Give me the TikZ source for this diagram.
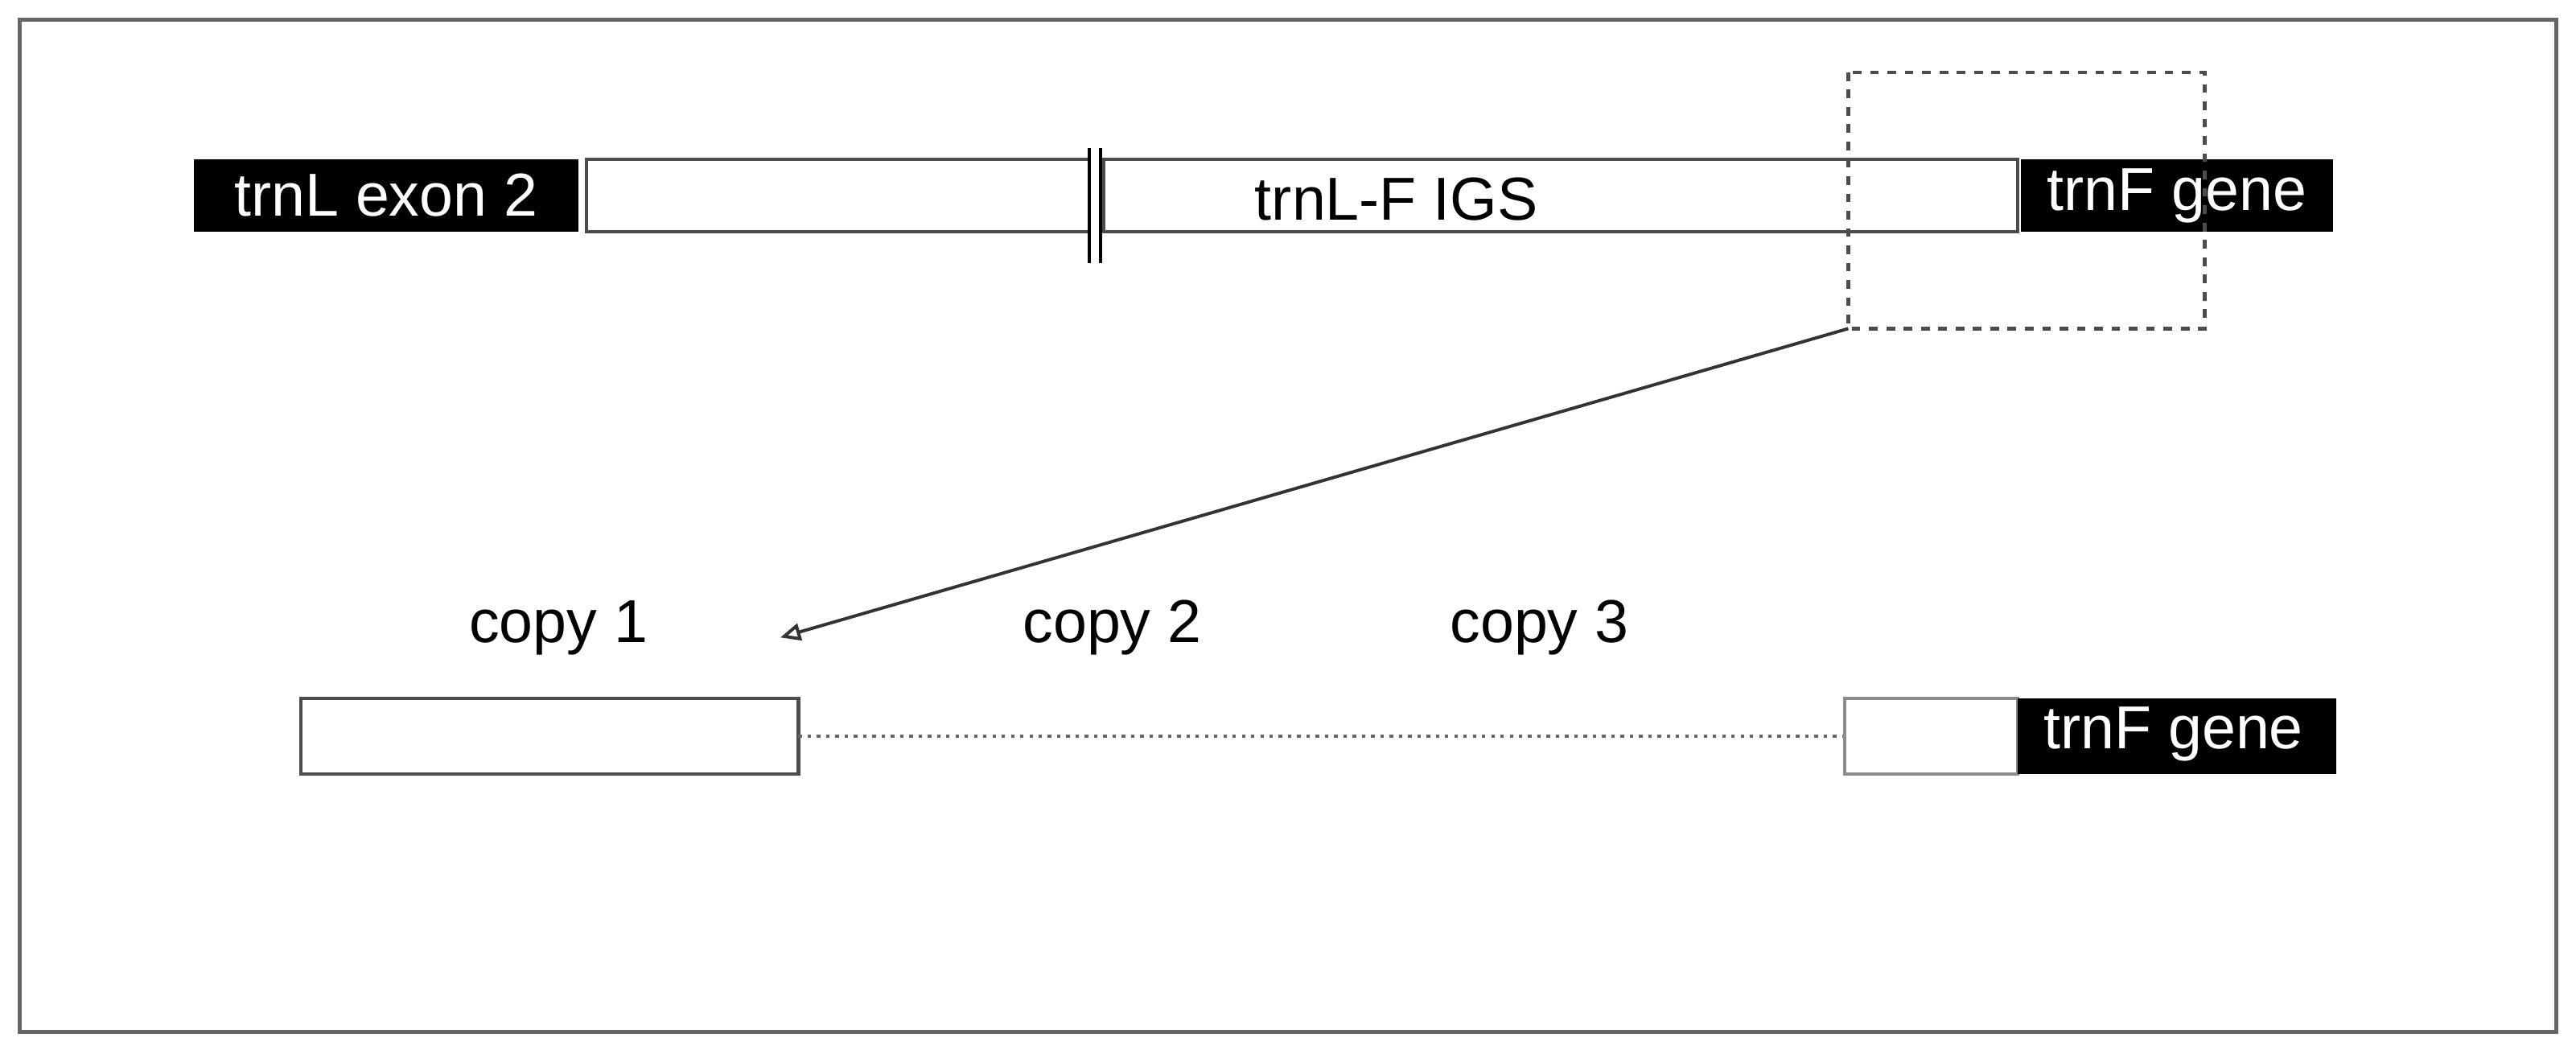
\documentclass[tikz,border=0pt]{standalone}
\usepackage{fontspec}
\setmainfont{Liberation Sans}
\usetikzlibrary{arrows.meta}

\begin{document}
\begin{tikzpicture}[x=0.02cm, y=-0.02cm,
  seg/.style={draw=black!70, line width=1.2pt, fill=white},
  gene/.style={fill=black, text=white, font=\fontsize{21}{25}\selectfont},
  lbl/.style={font=\fontsize{21}{25}\selectfont}]
\useasboundingbox (0,0) rectangle (1568,639);
% frame
\draw [black!60, line width=1.2pt] (12,12) rectangle (1556,628);

% upper region
\path [gene] (118,97) rectangle (352,141);
\node [gene, inner sep=0pt] (exon) at (235,119) {trnL exon 2};
\draw [seg] (357,97) rectangle (663,141);
\draw [seg] (672,97) rectangle (1228,141);
\draw [line width=1.2pt] (663,90) -- (663,160);
\draw [line width=1.2pt] (670,90) -- (670,160);
\node [lbl] (igs) at (850,121) {trnL-F IGS};
\path [gene] (1230,97) rectangle (1420,141);
\node [gene, inner sep=0pt] (gene1) at (1325,119) {trnF gene};
\draw [dashed, black!70, line width=1.2pt] (1125,44) rectangle (1342,200);
\coordinate (zoom) at (1125,200);

% copies
\node [lbl] (copy1) at (340,382) {copy 1};
\node [lbl] (copy2) at (677,382) {copy 2};
\node [lbl] (copy3) at (937,382) {copy 3};
\coordinate (tip) at (475,388);
\draw [black!80, line width=1.1pt, -{Triangle[open, length=7pt, width=6pt]}] (zoom) -- (tip);

% lower region
\draw [seg] (183,425) rectangle (486,471);
\draw [dotted, black!60, line width=1.2pt] (486,448) -- (1123,448);
\draw [seg, draw=black!45] (1123,425) rectangle (1228,471);
\path [gene] (1228,425) rectangle (1422,471);
\node [gene, inner sep=0pt] (gene2) at (1323,447) {trnF gene};
\end{tikzpicture}
\end{document}
